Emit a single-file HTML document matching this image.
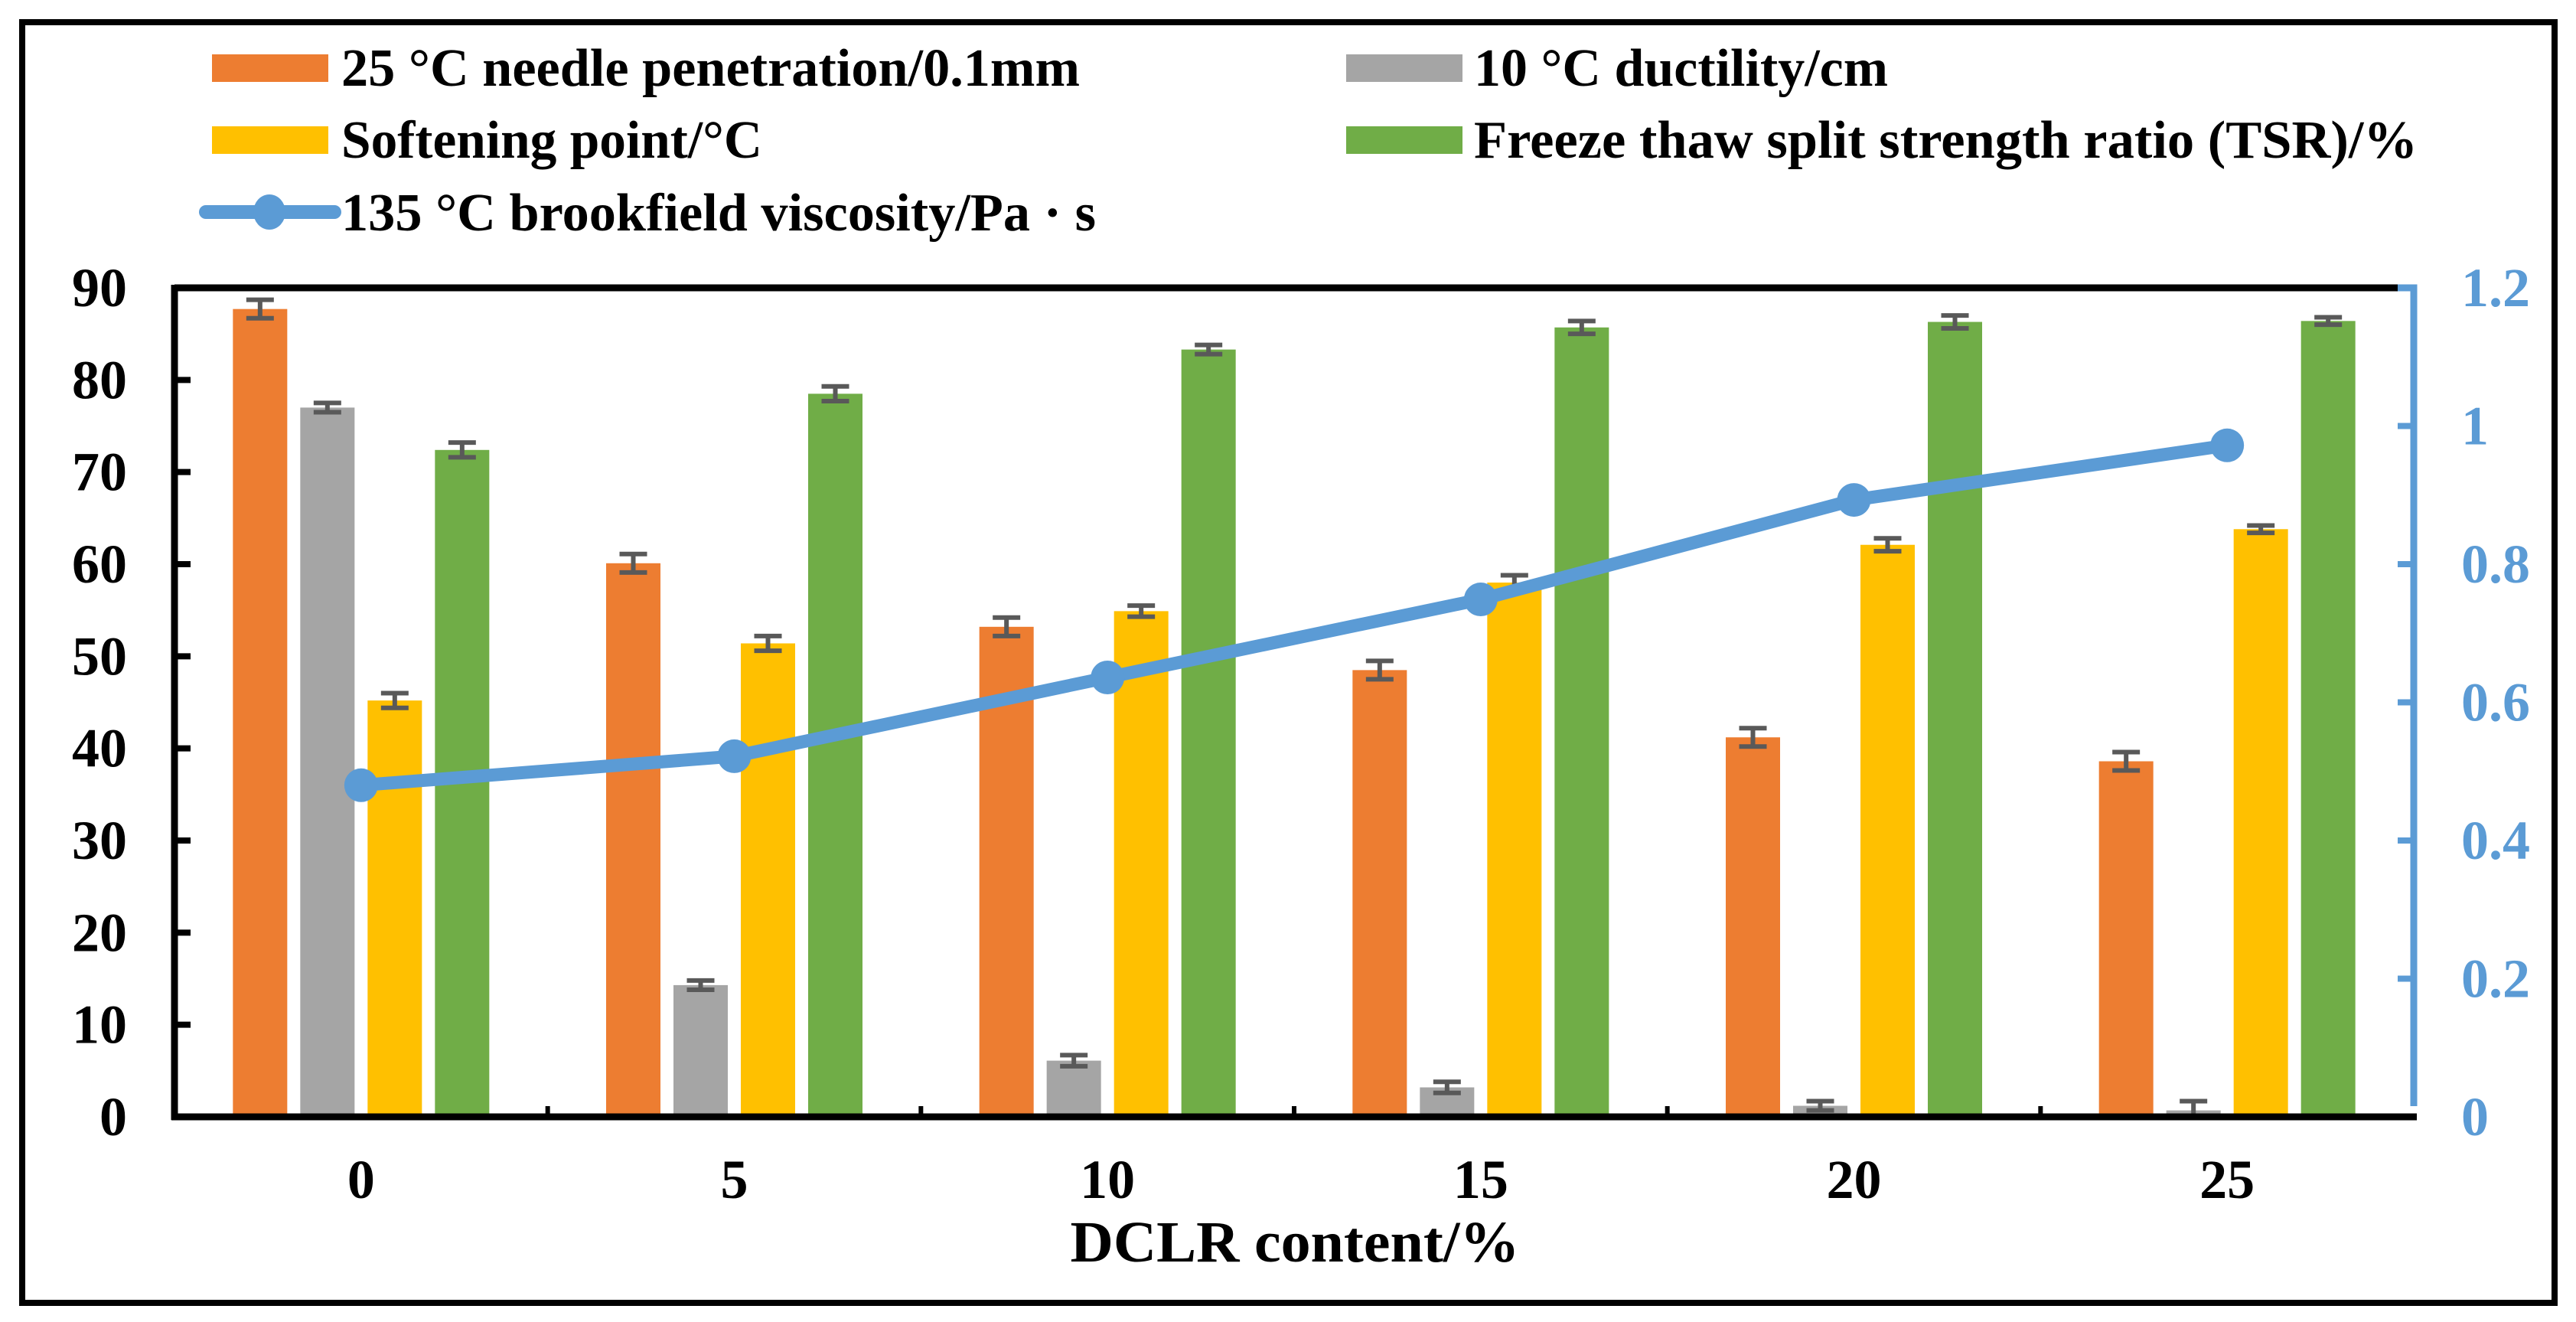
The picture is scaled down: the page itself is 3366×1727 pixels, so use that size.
<!DOCTYPE html>
<html><head><meta charset="utf-8"><style>
html,body{margin:0;padding:0;background:#fff;}
svg{display:block;}
svg text{font-family:"Liberation Serif","Times New Roman",Times,serif;font-weight:bold;}
</style></head><body>
<svg id="chart" width="3366" height="1727" viewBox="0 0 3366 1727" xmlns="http://www.w3.org/2000/svg" font-family="'Liberation Serif', 'Times New Roman', Times, serif" font-weight="bold">
<rect x="29" y="29" width="3309" height="1673" fill="none" stroke="#000" stroke-width="8"/>
<g id="legend">
 <g>
  <rect x="277" y="71" width="152" height="36" fill="#ED7D31"/>
  <text x="446" y="112" font-size="70" textLength="965" lengthAdjust="spacingAndGlyphs">25 °C needle penetration/0.1mm</text>
 </g>
 <g>
  <rect x="277" y="165" width="152" height="36" fill="#FFC000"/>
  <text x="446" y="206" font-size="70" textLength="550" lengthAdjust="spacingAndGlyphs">Softening point/°C</text>
 </g>
 <g>
  <line x1="269" y1="277" x2="437" y2="277" stroke="#5B9BD5" stroke-width="18" stroke-linecap="round"/>
  <ellipse cx="352" cy="277" rx="21" ry="23" fill="#5B9BD5"/>
  <text x="446" y="301" font-size="70" textLength="986" lengthAdjust="spacingAndGlyphs">135 °C brookfield viscosity/Pa · s</text>
 </g>
 <g>
  <rect x="1759" y="71" width="152" height="36" fill="#A5A5A5"/>
  <text x="1926" y="112" font-size="70" textLength="541" lengthAdjust="spacingAndGlyphs">10 °C ductility/cm</text>
 </g>
 <g>
  <rect x="1759" y="165" width="152" height="36" fill="#70AD47"/>
  <text x="1926" y="206" font-size="70" textLength="1233" lengthAdjust="spacingAndGlyphs">Freeze thaw split strength ratio (TSR)/%</text>
 </g>
</g>
<g id="bars"></g>
<g id="axes"></g>
<g id="line"></g>
</svg>
<script>
const categories = ["0","5","10","15","20","25"];
const penetration = [87.7, 60.1, 53.2, 48.5, 41.2, 38.6];
const penetrationErr = [1.0, 1.0, 1.0, 1.0, 1.0, 1.0];
const ductility = [77.0, 14.3, 6.1, 3.2, 1.2, 0.7];
const ductilityErr = [0.5, 0.5, 0.6, 0.6, 0.5, 1.0];
const softening = [45.2, 51.4, 54.9, 58.0, 62.1, 63.8];
const softeningErr = [0.8, 0.8, 0.6, 0.8, 0.7, 0.4];
const tsr = [72.4, 78.5, 83.3, 85.7, 86.3, 86.4];
const tsrErr = [0.8, 0.8, 0.5, 0.7, 0.7, 0.4];
const viscosity = [0.48, 0.522, 0.636, 0.749, 0.893, 0.972];
const leftTicks = [0,10,20,30,40,50,60,70,80,90];
const rightTicks = [0,0.2,0.4,0.6,0.8,1,1.2];
const rightTickLabels = ["0","0.2","0.4","0.6","0.8","1","1.2"];

const NS = "http://www.w3.org/2000/svg";
const X0 = 228, X1 = 3154, YB = 1459, YT = 376;
const groupW = (X1 - X0) / categories.length;
function xCenter(i){ return X0 + groupW * (i + 0.5); }
function yL(v){ return YB - (v / 90) * (YB - YT); }
function yR(v){ return YB - (v / 1.2) * (YB - YT); }
function mk(tag, attrs, parent){
  const e = document.createElementNS(NS, tag);
  for (const k in attrs) e.setAttribute(k, attrs[k]);
  parent.appendChild(e);
  return e;
}
const bars = document.getElementById('bars');
const axes = document.getElementById('axes');
const lineG = document.getElementById('line');
const series = [
  {name:'penetration', vals:penetration, err:penetrationErr, color:'#ED7D31', off:-132},
  {name:'ductility', vals:ductility, err:ductilityErr, color:'#A5A5A5', off:-44},
  {name:'softening', vals:softening, err:softeningErr, color:'#FFC000', off:44},
  {name:'tsr', vals:tsr, err:tsrErr, color:'#70AD47', off:132}
];
const BW = 71;
series.forEach(s => {
  s.vals.forEach((v, i) => {
    const cx = xCenter(i) + s.off;
    const r = mk('rect', {x: cx - BW/2, y: yL(v), width: BW, height: yL(0) - yL(v) - 4, fill: s.color}, bars);
    
    
    const e = s.err[i];
    const g = mk('g', {stroke: '#595959', 'stroke-width': 6}, bars);
    
    
    mk('line', {x1: cx, x2: cx, y1: yL(v + e), y2: yL(Math.max(v - e, 0))}, g);
    mk('line', {x1: cx - 18, x2: cx + 18, y1: yL(v + e), y2: yL(v + e)}, g);
    mk('line', {x1: cx - 18, x2: cx + 18, y1: yL(Math.max(v - e, 0)), y2: yL(Math.max(v - e, 0))}, g);
  });
});
const frame = mk('path', {d: `M${X0} ${YT} L${X1-21} ${YT} M${X0} ${YT-4} L${X0} ${YB+4} M${X0-4} ${YB} L${X1+4} ${YB}`, stroke: '#000', 'stroke-width': 9, fill: 'none'}, axes);


const ra = mk('path', {d: `M${X1-21} ${YT} L${X1} ${YT} L${X1} ${YB-14}`, stroke: '#5B9BD5', 'stroke-width': 9, fill: 'none'}, axes);


leftTicks.forEach(t => {
  const y = yL(t);
  if (t > 0 && t < 90) mk('line', {x1: X0, x2: X0 + 21, y1: y, y2: y, stroke: '#000', 'stroke-width': 8}, axes);
  const tx = mk('text', {x: 166, y: y + 24, 'font-size': 72, 'text-anchor': 'end', fill: '#000'}, axes);
  tx.textContent = t;
  
  
});
rightTicks.forEach((t, i) => {
  const y = yR(t);
  if (i > 0 && i < rightTicks.length - 1) mk('line', {x1: X1 - 21, x2: X1, y1: y, y2: y, stroke: '#5B9BD5', 'stroke-width': 8}, axes);
  const tx = mk('text', {x: 3216, y: y + 24, 'font-size': 72, fill: '#5B9BD5'}, axes);
  tx.textContent = rightTickLabels[i];
  
  
});
for (let i = 1; i < categories.length; i++) {
  const x = X0 + groupW * i;
  mk('line', {x1: x, x2: x, y1: YB, y2: YB - 14, stroke: '#000', 'stroke-width': 6}, axes);
}
categories.forEach((c, i) => {
  const tx = mk('text', {x: xCenter(i), y: 1565, 'font-size': 72, 'text-anchor': 'middle', fill: '#000'}, axes);
  tx.textContent = c;
  
  
});
const xt = mk('text', {x: 1692, y: 1648, 'font-size': 76, 'text-anchor': 'middle', fill: '#000', textLength: 587, lengthAdjust: 'spacingAndGlyphs'}, axes);
xt.textContent = 'DCLR content/%';


const pts = viscosity.map((v, i) => [xCenter(i), yR(v)]);
const pl = mk('polyline', {points: pts.map(p => p.join(',')).join(' '), fill: 'none', stroke: '#5B9BD5', 'stroke-width': 17, 'stroke-linejoin': 'round'}, lineG);


pts.forEach((p, i) => {
  const c = mk('ellipse', {cx: p[0], cy: p[1], rx: 22, ry: 22, fill: '#5B9BD5'}, lineG);
  
  
});
</script>
</body></html>
